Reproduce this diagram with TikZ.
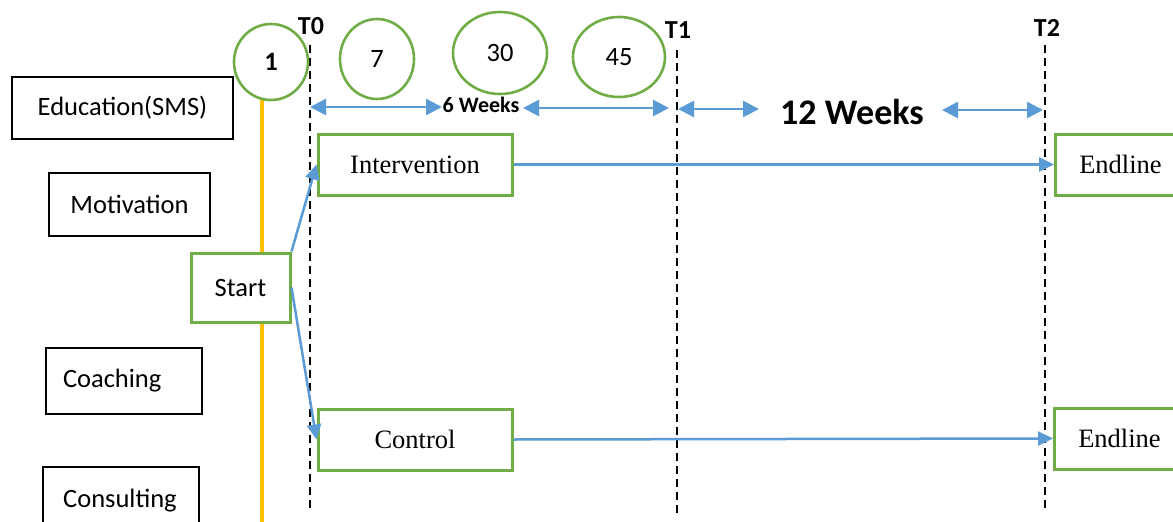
\documentclass[tikz,border=0pt]{standalone}
\usepackage{fontspec}
\setmainfont{Liberation Serif}
\newfontfamily\calfont{Carlito}
\usetikzlibrary{arrows.meta,shapes.geometric}
\definecolor{bxgreen}{HTML}{70AD47}
\definecolor{arblue}{HTML}{5B9BD5}
\definecolor{ylw}{HTML}{FFC000}
\tikzset{
  lbox/.style={draw=black,line width=1.4pt,minimum width=#1,inner sep=0pt,font=\calfont\fontsize{26.5}{30}\selectfont},
  gbox/.style={draw=bxgreen,fill=white,line width=3pt,minimum width=#1,minimum height=61pt,inner sep=0pt,font=\fontsize{26.5}{30}\selectfont},
  circ/.style={draw=bxgreen,line width=2.6pt,ellipse,inner sep=0pt,font=\calfont\fontsize{26.5}{30}\selectfont},
  tlab/.style={font=\calfont\bfseries\fontsize{26}{28}\selectfont,inner sep=0pt},
  tline/.style={draw=black,line width=1.5pt,dash pattern=on 8pt off 5pt},
  flow/.style={draw=arblue,line width=2.5pt,-{Triangle[length=15pt,width=14pt]}},
  span/.style={draw=arblue,line width=2.5pt,{Triangle[length=16pt,width=16pt]}-{Triangle[length=16pt,width=16pt]}}
}
\begin{document}
\begin{tikzpicture}[x=1pt,y=-1pt]
\clip (0,0) rectangle (1173,522);
\fill[white] (0,0) rectangle (1173,522);
% left labels
\node[lbox=221pt,minimum height=62pt] (edu) at (122.5,108) {Education(SMS)};
\node[lbox=161pt,minimum height=63pt] (mot) at (129.5,204.5) {Motivation};
\node[lbox=156pt,minimum height=66pt,text width=140pt,align=left] (coa) at (124,381) {\hspace*{9pt}Coaching};
\node[lbox=156pt,minimum height=70pt] (con) at (121,502) {};
\node[font=\calfont\fontsize{26.5}{30}\selectfont,inner sep=0pt,anchor=base] (contxt) at (120,507) {Consulting};
% yellow line
\coordinate (ytop) at (262,100);
\coordinate (ybot) at (262,522);
\draw[ylw,line width=4pt] (ytop) -- (ybot);
% dashed time lines
\node[tlab] (t0) at (311,26) {T0};
\node[tlab] (t1) at (678,30) {T1};
\node[tlab] (t2) at (1047,28) {T2};
\coordinate (t0a) at (310,45); \coordinate (t0b) at (310,508);
\coordinate (t1a) at (677,50); \coordinate (t1b) at (677,515);
\coordinate (t2a) at (1045,45); \coordinate (t2b) at (1045,508);
\draw[tline] (t0a) -- (t0b);
\draw[tline] (t1a) -- (t1b);
\draw[tline] (t2a) -- (t2b);
% circles
\node[circ,minimum width=74pt,minimum height=76pt] (c1) at (271,62) {\raisebox{-5pt}{\bfseries 1}};
\node[circ,minimum width=74pt,minimum height=80pt] (c7) at (377,59) {\raisebox{-4pt}{7}};
\node[circ,minimum width=94pt,minimum height=82pt] (c30) at (500,53) {\raisebox{-4pt}{30}};
\node[circ,minimum width=92pt,minimum height=80pt] (c45) at (619,57) {\raisebox{-4pt}{45}};
% boxes
\node[gbox=99pt,minimum height=69pt,font=\calfont\fontsize{26.5}{30}\selectfont] (start) at (240.5,287.5) {Start};
\node[gbox=194pt] (int) at (415,164.5) {Intervention};
\node[gbox=194pt] (ctl) at (415,439.5) {Control};
\node[gbox=130pt,anchor=west] (end1) at (1054,164.5) {Endline};
\node[gbox=130pt,anchor=west] (end2) at (1053,438.5) {Endline};
% spans
\node[font=\calfont\bfseries\fontsize{22}{24}\selectfont,inner sep=0pt] (six) at (481,105) {6 Weeks};
\node[font=\calfont\bfseries\fontsize{36}{40}\selectfont,inner sep=0pt] (twelve) at (852,112) {12 Weeks};
\coordinate (s1a) at (310,107); \coordinate (s1b) at (442,107);
\coordinate (s2a) at (523,108); \coordinate (s2b) at (669,108);
\coordinate (s3a) at (678,109); \coordinate (s3b) at (759,109);
\coordinate (s4a) at (942,110); \coordinate (s4b) at (1043,110);
\draw[span] (s1a) -- (s1b);
\draw[span] (s2a) -- (s2b);
\draw[span] (s3a) -- (s3b);
\draw[span] (s4a) -- (s4b);
% flows
\draw[flow] (start.north east) -- (int.west);
\draw[flow] (start.east) -- (ctl.west);
\draw[flow] (int.east) -- (end1.west);
\draw[flow] (ctl.east) -- (end2.west);
\end{tikzpicture}
\end{document}
